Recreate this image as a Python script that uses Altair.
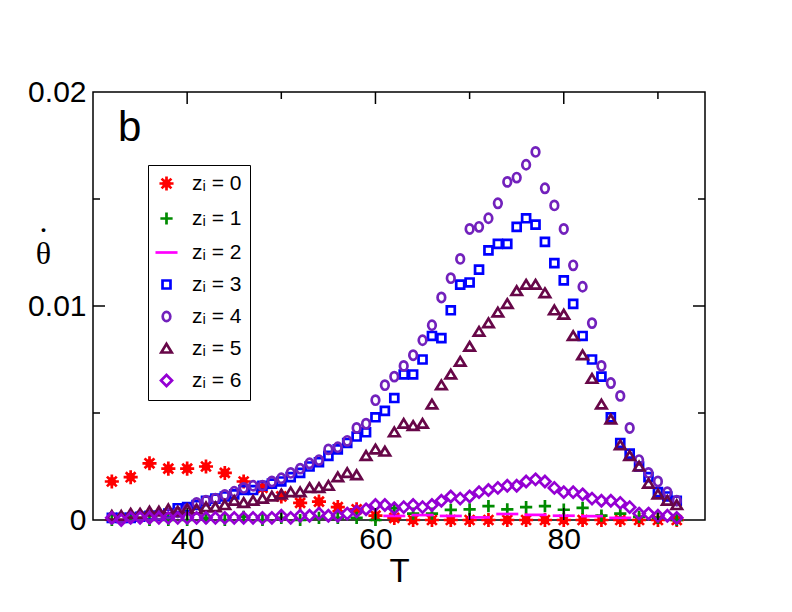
import altair as alt
import pandas as pd

# ---- data ----
T_step1 = [32, 33, 34, 35, 36, 37, 38, 39, 40, 41, 42, 43, 44, 45, 46, 47, 48, 49, 50,
           51, 52, 53, 54, 55, 56, 57, 58, 59, 60, 61, 62, 63, 64, 65, 66, 67, 68, 69, 70,
           71, 72, 73, 74, 75, 76, 77, 78, 79, 80, 81, 82, 83, 84, 85, 86, 87, 88, 89, 90,
           91, 92]
T_step2 = [32, 34, 36, 38, 40, 42, 44, 46, 48, 50, 52, 54, 56, 58, 60, 62, 64, 66, 68,
           70, 72, 74, 76, 78, 80, 82, 84, 86, 88, 90, 92]
T_z2 = [62, 65, 68, 71, 74, 77, 80, 83, 86]

z0 = [0.0018, 0.0020, 0.00265, 0.0024, 0.0024, 0.0025, 0.0022, 0.0018, 0.0015, 0.0011,
      0.0008, 0.00086, 0.0006, 0.0005, 0.0002, 0.0001, 0.0, 0.0, 0.0, 0.0, 0.0, 0.0,
      0.0, 0.0, 0.0, 0.0, 0.0, 0.0, 0.0, 0.0, 0.0]
z1 = [0.0, 0.0001, 0.0, 0.0, 0.0, 0.0001, 0.0, 0.00015, 0.0, 0.0001, 0.0, 0.0001,
      0.0001, 0.0001, 0.0, 0.00055, 0.0003, 0.0003, 0.00047, 0.0005, 0.00065, 0.0005,
      0.0006, 0.00065, 0.00048, 0.00057, 0.0002, 0.0003, 0.00015, 0.0001, 0.0]
z2 = [0.00019, 0.00023, 0.00019, 0.00012, 0.00028, 0.00024, 0.0002, 0.00018, 0.0001]
z3 = [0.0001, 0.0001, 0.0001, 0.00015, 0.0002, 0.0002, 0.0003, 0.00055, 0.0006, 0.0007,
      0.0009, 0.0010, 0.0011, 0.0012, 0.0014, 0.0014, 0.0016, 0.0017, 0.0018, 0.0020,
      0.0022, 0.0025, 0.0027, 0.0030, 0.0033, 0.0036, 0.0039, 0.0041, 0.0048, 0.0051,
      0.0057, 0.0068, 0.0068, 0.0075, 0.0086, 0.0085, 0.0098, 0.0110, 0.0111, 0.0117,
      0.0126, 0.0129, 0.0129, 0.0137, 0.0141, 0.0138, 0.0130, 0.0120, 0.0112, 0.0101,
      0.0086, 0.0075, 0.0067, 0.0048, 0.0036, 0.0031, 0.0025, 0.0020, 0.0013, 0.0011,
      0.0009]
z4 = [0.0001, 0.0001, 0.00015, 0.0002, 0.0002, 0.00025, 0.0003, 0.00035, 0.0005, 0.0008,
      0.0009, 0.0010, 0.00117, 0.00132, 0.0015, 0.0016, 0.0016, 0.0018, 0.00195, 0.0022,
      0.0024, 0.00265, 0.0028, 0.0033, 0.0034, 0.0037, 0.0043, 0.0045, 0.0056, 0.0063,
      0.0067, 0.0072, 0.0077, 0.0084, 0.0091, 0.0104, 0.0113, 0.0122, 0.0136, 0.0137,
      0.0141, 0.0148, 0.0158, 0.0160, 0.0166, 0.0172, 0.0155, 0.0147, 0.0136, 0.0119,
      0.0109, 0.0092, 0.0072, 0.0064, 0.0058, 0.0043, 0.0028, 0.0022, 0.0018, 0.0013,
      0.0009]
z5 = [0.0002, 0.0002, 0.0003, 0.0003, 0.0004, 0.0004, 0.0005, 0.0004, 0.0005, 0.0005,
      0.0006, 0.0006, 0.0007, 0.0009, 0.0008, 0.0009, 0.0010, 0.0011, 0.0012, 0.0013,
      0.0013, 0.0015, 0.0015, 0.0016, 0.0020, 0.0022, 0.0021, 0.0030, 0.0033, 0.0032,
      0.0041, 0.0045, 0.0044, 0.0045, 0.0054, 0.0063, 0.0068, 0.0074, 0.0081, 0.0088,
      0.0092, 0.0097, 0.0101, 0.0107, 0.0110, 0.0110, 0.0106, 0.0098, 0.0096, 0.0086,
      0.0077, 0.0066, 0.0054, 0.0047, 0.0035, 0.0030, 0.0025, 0.0017, 0.0012, 0.0009,
      0.0007]
z6 = [0.0001, 0.0, 0.0001, 0.0001, 0.0001, 0.0001, 0.0001, 0.0001, 0.0001, 0.0001,
      0.0001, 0.0001, 0.0001, 0.0001, 0.0001, 0.0001, 0.0001, 0.0001, 0.0002, 0.0001,
      0.0002, 0.0002, 0.0003, 0.0002, 0.0002, 0.0003, 0.0004, 0.0005, 0.0007, 0.0007,
      0.00055, 0.0006, 0.0007, 0.0006, 0.0007, 0.0009, 0.0011, 0.0010, 0.0011, 0.0013,
      0.0014, 0.0015, 0.0016, 0.0016, 0.0018, 0.0019, 0.0018, 0.0015, 0.0013, 0.0013,
      0.0012, 0.0010, 0.0009, 0.0009, 0.0008, 0.0006, 0.0003, 0.0003, 0.0002, 0.0002,
      0.0001]

labels = ["zᵢ = 0", "zᵢ = 1", "zᵢ = 2", "zᵢ = 3", "zᵢ = 4", "zᵢ = 5", "zᵢ = 6"]
colors = ["#FF0000", "#008B00", "#FF00FF", "#0000FF", "#7221BC", "#670748", "#9400D3"]
shapes = [
    "M-1.15,0L1.15,0M0,-1.15L0,1.15M-0.8,-0.8L0.8,0.8M-0.8,0.8L0.8,-0.8M-0.45,-0.45L0.45,-0.45L0.45,0.45L-0.45,0.45Z",
    "M-1.0,0L1.0,0M0,-1.0L0,1.0",
    "M-1.8,0L1.8,0",
    "M-0.65,-0.65L0.65,-0.65L0.65,0.65L-0.65,0.65Z",
    "M-0.62,0A0.62,0.75 0 1,0 0.62,0A0.62,0.75 0 1,0 -0.62,0Z",
    "M0,-0.75L0.85,0.65L-0.85,0.65Z",
    "M0,-0.9L0.9,0L0,0.9L-0.9,0Z",
]

x_major = [40, 60, 80]
x_minor = [50, 70, 90]
y_major = [0.01]
y_minor = [0.005, 0.015]

series = [(labels[0], T_step2, z0), (labels[1], T_step2, z1), (labels[2], T_z2, z2),
          (labels[3], T_step1, z3), (labels[4], T_step1, z4), (labels[5], T_step1, z5),
          (labels[6], T_step1, z6)]
rows = []
for order, (lab, ts, vs) in enumerate(series):
    for t, v in zip(ts, vs):
        rows.append({"T": t, "v": v, "series": lab, "order": order})
df = pd.DataFrame(rows)

W, H = 612, 428
FONT = "Liberation Sans"

xenc = alt.X("T:Q", title="T",
             scale=alt.Scale(domain=[30, 95], nice=False, zero=False),
             axis=alt.Axis(values=x_major, grid=False, ticks=False, tickSize=0, domain=False,
                           labelFont=FONT, labelFontSize=30, labelBaseline="alphabetic",
                           labelPadding=28, labelColor="black",
                           titleFont=FONT, titleFontSize=33, titleFontWeight="normal",
                           titleBaseline="alphabetic", titleY=61, titleColor="black"))
# y title: theta with a dot above (two lines: the dot, then the theta)
yenc = alt.Y("v:Q", title=[".", "θ"],
             scale=alt.Scale(domain=[0, 0.02], nice=False),
             axis=alt.Axis(values=[0, 0.01, 0.02], format=".2~f", grid=False, ticks=False,
                           tickSize=0, domain=False,
                           labelFont=FONT, labelFontSize=30, labelBaseline="middle",
                           labelPadding=7, labelColor="black",
                           titleFont="Liberation Serif", titleFontSize=32,
                           titleFontWeight="normal", titleAngle=0, titleAlign="center",
                           titleBaseline="alphabetic", titleX=-50, titleY=139,
                           titleLineHeight=32, titleColor="black"))

points = alt.Chart(df).mark_point(filled=False, strokeWidth=2.7, size=150, opacity=1).encode(
    x=xenc, y=yenc,
    color=alt.Color("series:N", scale=alt.Scale(domain=labels, range=colors),
                    legend=alt.Legend(title=None, orient="none", legendX=55, legendY=73,
                                      strokeColor="black", padding=8, symbolOffset=0,
                                      labelOffset=15, rowPadding=10, symbolSize=150,
                                      symbolStrokeWidth=2.7, labelFont=FONT,
                                      labelFontSize=21, labelColor="black")),
    shape=alt.Shape("series:N", scale=alt.Scale(domain=labels, range=shapes)),
    order=alt.Order("order:Q"),
)

xmaj = pd.DataFrame({"T": x_major})
xmin = pd.DataFrame({"T": x_minor})
ymaj = pd.DataFrame({"v": y_major})
ymin = pd.DataFrame({"v": y_minor})

def xticks(d, L):
    bottom = alt.Chart(d).mark_rule(color="black", strokeWidth=1.5).encode(
        x=xenc, y=alt.value(H), y2=alt.value(H - L))
    top = alt.Chart(d).mark_rule(color="black", strokeWidth=1.5).encode(
        x=xenc, y=alt.value(0), y2=alt.value(L))
    return bottom + top

def yticks(d, L):
    left = alt.Chart(d).mark_rule(color="black", strokeWidth=1.5).encode(
        y=yenc, x=alt.value(0), x2=alt.value(L))
    right = alt.Chart(d).mark_rule(color="black", strokeWidth=1.5).encode(
        y=yenc, x=alt.value(W), x2=alt.value(W - L))
    return left + right

blabel = alt.Chart(pd.DataFrame({"t": ["b"]})).mark_text(
    font=FONT, fontSize=42, align="left", baseline="alphabetic", color="black"
).encode(x=alt.value(25), y=alt.value(49), text="t:N")

chart = alt.layer(
    points, xticks(xmaj, 12), xticks(xmin, 7), yticks(ymaj, 12), yticks(ymin, 7), blabel
).properties(
    width=W, height=H,
    padding={"left": 85, "top": 84, "right": 70, "bottom": 80},
    autosize=alt.AutoSizeParams(type="none"),
    background="white",
).configure_view(stroke="black", strokeWidth=1.5)

chart.save("out.html", embed_options={"renderer": "svg", "actions": False})
